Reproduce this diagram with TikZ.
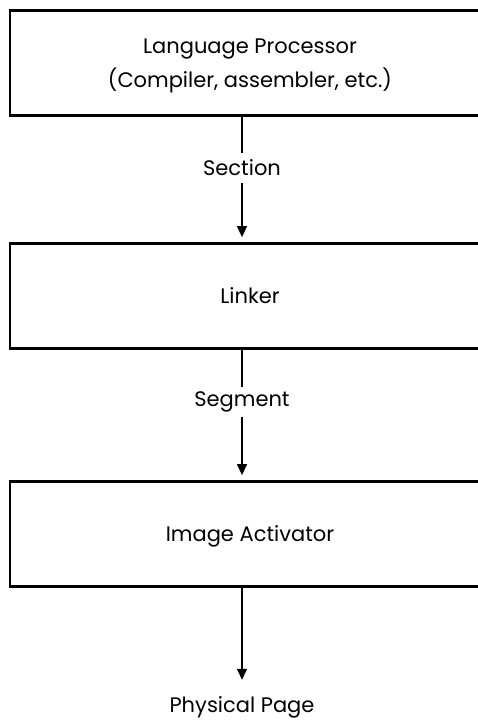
\documentclass[tikz,border=0pt]{standalone}
\usepackage{fontspec}
\setmainfont{Poppins}
\usetikzlibrary{arrows.meta}

\tikzset{
  stage/.style={draw=black, line width=2.8pt, minimum width=480pt, minimum height=105pt,
    align=center, text depth=0pt, font=\fontsize{21}{34}\selectfont},
  tag/.style={inner sep=0pt, minimum height=30pt, font=\fontsize{21}{24}\selectfont},
  flow/.style={-{Triangle[length=11pt,width=10pt]}, line width=1.3pt, shorten >=5pt}
}

\begin{document}
\begin{tikzpicture}[x=1pt,y=-1pt]
  \useasboundingbox (0,0) rectangle (478,724);

  \node[stage] (lang) at (250,63) {Language Processor\\(Compiler, assembler, etc.)};
  \node[stage] (linker) at (250,296) {Linker};
  \node[stage] (activator) at (250,534) {Image Activator};

  \node[tag] (section) at (242,168) {Section};
  \node[tag] (segment) at (242,402) {Segment};
  \node[tag] (page) at (242,707) {Physical Page};

  \draw[line width=1.3pt] (lang.south -| section) -- (section);
  \draw[flow] (section) -- (linker.north -| section);
  \draw[line width=1.3pt] (linker.south -| segment) -- (segment);
  \draw[flow] (segment) -- (activator.north -| segment);
  \draw[flow, shorten >=12pt] (activator.south -| page) -- (page.north);
\end{tikzpicture}
\end{document}
